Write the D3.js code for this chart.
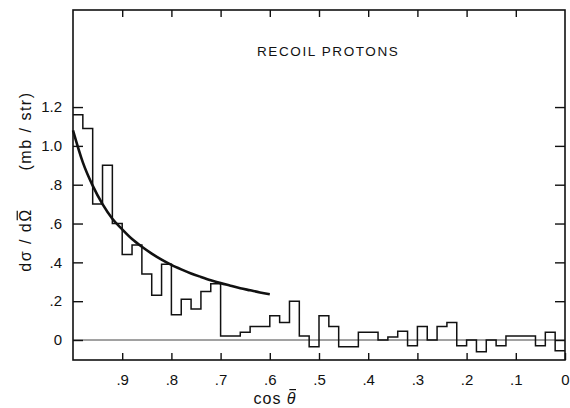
<!DOCTYPE html>
<html><head><meta charset="utf-8">
<script src="https://cdn.jsdelivr.net/npm/d3@7"></script>
<style>
html,body{margin:0;padding:0;background:#fff;}
svg{display:block;}
text{font-family:"Liberation Sans",Arial,sans-serif;fill:#111;}
</style></head>
<body>
<script>
// Histogram bins: upper edge of each bin in cos(theta-bar) (bin width 0.02), and value dσ/dΩ
const binUpper = [1.00,0.98,0.96,0.94,0.92,0.90,0.88,0.86,0.84,0.82,
                  0.80,0.78,0.76,0.74,0.72,0.70,0.68,0.66,0.64,0.62,
                  0.60,0.58,0.56,0.54,0.52,0.50,0.48,0.46,0.44,0.42,
                  0.40,0.38,0.36,0.34,0.32,0.30,0.28,0.26,0.24,0.22,
                  0.20,0.18,0.16,0.14,0.12,0.10,0.08,0.06,0.04,0.02];
const binValue = [1.16,1.09,0.70,0.90,0.60,0.44,0.49,0.34,0.23,0.39,
                  0.13,0.21,0.16,0.25,0.29,0.02,0.02,0.04,0.07,0.07,
                  0.125,0.09,0.20,0.02,-0.035,0.125,0.07,-0.035,-0.035,0.04,
                  0.04,0.0,0.015,0.045,-0.03,0.07,0.0,0.07,0.09,-0.03,
                  0.0,-0.06,0.0,-0.03,0.02,0.02,0.02,-0.03,0.04,-0.055];
const binLowerEnd = 0.0;

// Smooth theoretical curve
const curveCos = [1.00,0.98,0.96,0.94,0.92,0.90,0.88,0.86,0.84,0.82,0.80,
                  0.78,0.76,0.74,0.72,0.70,0.68,0.66,0.64,0.62,0.60];
const curveVal = [1.08,0.915,0.795,0.70,0.625,0.57,0.52,0.48,0.445,0.414,0.387,
                  0.364,0.343,0.325,0.308,0.293,0.280,0.267,0.256,0.245,0.236];

// Tick values / labels
const xTicks = [0.9,0.8,0.7,0.6,0.5,0.4,0.3,0.2,0.1,0.0];
const xTopTicks = [0.9,0.8,0.7,0.6,0.5,0.4,0.3,0.2,0.1];
const yTicks = [0,0.2,0.4,0.6,0.8,1.0,1.2];
const titleText = "RECOIL PROTONS";

const W = 570, H = 408;
const svg = d3.select("body").append("svg").attr("width", W).attr("height", H);

const x = d3.scaleLinear().domain([1, 0]).range([73, 565]);
const y = d3.scaleLinear().domain([-0.103, 1.70]).range([360, 10]);

const fmt = d => d === 0 ? "0" : (d >= 1 ? d.toFixed(1) : d.toFixed(1).replace(/^0/, ""));

// zero line
svg.append("line")
  .attr("x1", x(1)).attr("x2", x(0)).attr("y1", y(0)).attr("y2", y(0))
  .attr("stroke", "#444").attr("stroke-width", 1);

// axes (ticks inward)
const gB = svg.append("g").attr("transform", `translate(0,${y.range()[0]})`)
  .call(d3.axisBottom(x).tickValues(xTicks).tickSize(-7).tickPadding(14).tickFormat(fmt));
const gT = svg.append("g").attr("transform", `translate(0,${y.range()[1]})`)
  .call(d3.axisTop(x).tickValues(xTopTicks).tickSize(-7).tickFormat(""));
const gL = svg.append("g").attr("transform", `translate(${x.range()[0]},0)`)
  .call(d3.axisLeft(y).tickValues(yTicks).tickSize(-10).tickPadding(11).tickFormat(fmt));
const gR = svg.append("g").attr("transform", `translate(${x.range()[1]},0)`)
  .call(d3.axisRight(y).tickValues(yTicks).tickSize(-10).tickFormat(""));
[gB, gT, gL, gR].forEach(g => {
  g.select(".domain").remove();
  g.selectAll(".tick line").attr("stroke", "#111").attr("stroke-width", 1.4);
  g.selectAll("text").attr("font-size", 15).attr("fill", "#111")
    .style("font-family", '"Liberation Sans", Arial, sans-serif');
});

// frame
svg.append("rect")
  .attr("x", x(1)).attr("y", y(1.70))
  .attr("width", x(0) - x(1)).attr("height", y(-0.103) - y(1.70))
  .attr("fill", "none").attr("stroke", "#111").attr("stroke-width", 1.6);

// histogram (step line)
const histPts = binUpper.map((c, i) => [c, binValue[i]]);
histPts.push([binLowerEnd, binValue[binValue.length - 1]]);
svg.append("path")
  .attr("d", d3.line().x(d => x(d[0])).y(d => y(d[1])).curve(d3.curveStepAfter)(histPts))
  .attr("fill", "none").attr("stroke", "#111").attr("stroke-width", 1.5);

// smooth curve
svg.append("path")
  .attr("d", d3.line().x((d, i) => x(curveCos[i])).y(d => y(d)).curve(d3.curveMonotoneX)(curveVal))
  .attr("fill", "none").attr("stroke", "#111").attr("stroke-width", 2.6);

// title
svg.append("text").attr("x", 257).attr("y", 56)
  .attr("font-size", 13.5).attr("letter-spacing", "1.6px")
  .text(titleText);

// y label
const fsY = 16;
svg.append("text").attr("transform", "translate(31,131) rotate(-90)")
  .attr("text-anchor", "middle").attr("font-size", fsY).attr("letter-spacing", "1.5px")
  .text("(mb / str)");
const gy = svg.append("g").attr("transform", "translate(31,240) rotate(-90)");
const yl = gy.append("text").attr("text-anchor", "middle").attr("font-size", fsY)
  .attr("letter-spacing", "1.5px").text("d\u03C3 / d\u03A9");
{
  const node = yl.node();
  const n = node.getNumberOfChars();
  const ext = node.getExtentOfChar(n - 1);
  gy.append("line")
    .attr("x1", ext.x + 1.5).attr("x2", ext.x + ext.width - 2.5)
    .attr("y1", -fsY * 0.86).attr("y2", -fsY * 0.86)
    .attr("stroke", "#111").attr("stroke-width", 1.2);
}

// x label
const fsX = 16;
const xl = svg.append("text").attr("x", 275).attr("y", 404)
  .attr("text-anchor", "middle").attr("font-size", fsX).attr("letter-spacing", "1px");
xl.append("tspan").text("cos ");
xl.append("tspan").attr("font-style", "italic").text("\u03B8");
{
  const node = xl.node();
  const n = node.getNumberOfChars();
  const ext = node.getExtentOfChar(n - 1);
  svg.append("line")
    .attr("x1", ext.x + 2.5).attr("x2", ext.x + ext.width - 0.5)
    .attr("y1", 404 - fsX * 0.9).attr("y2", 404 - fsX * 0.9)
    .attr("stroke", "#111").attr("stroke-width", 1.2);
}
</script>
</body></html>
